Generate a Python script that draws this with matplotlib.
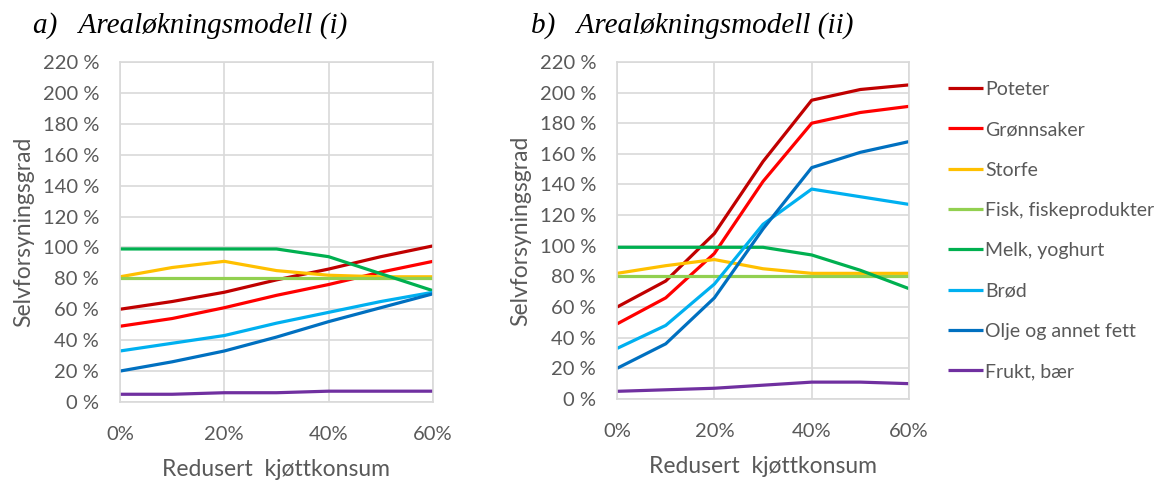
import matplotlib.pyplot as plt
from matplotlib.ticker import FuncFormatter

reduksjon = [0, 10, 20, 30, 40, 50, 60]
navn = ['Poteter', 'Grønnsaker', 'Storfe', 'Fisk, fiskeprodukter',
        'Melk, yoghurt', 'Brød', 'Olje og annet fett', 'Frukt, bær']
farger = ['#C00000', '#FF0000', '#FFC000', '#92D050',
          '#00B050', '#00B0F0', '#0070C0', '#7030A0']

# a) Arealøkningsmodell (i)
modell_i = {
    'Poteter': [60, 65, 71, 79, 86, 94, 101],
    'Grønnsaker': [49, 54, 61, 69, 76, 84, 91],
    'Storfe': [81, 87, 91, 85, 82, 81, 81],
    'Fisk, fiskeprodukter': [80, 80, 80, 80, 80, 80, 80],
    'Melk, yoghurt': [99, 99, 99, 99, 94, 83, 72],
    'Brød': [33, 38, 43, 51, 58, 65, 71],
    'Olje og annet fett': [20, 26, 33, 42, 52, 61, 70],
    'Frukt, bær': [5, 5, 6, 6, 7, 7, 7],
}

# b) Arealøkningsmodell (ii)
modell_ii = {
    'Poteter': [60, 77, 108, 155, 195, 202, 205],
    'Grønnsaker': [49, 66, 95, 142, 180, 187, 191],
    'Storfe': [82, 87, 91, 85, 82, 82, 82],
    'Fisk, fiskeprodukter': [80, 80, 80, 80, 80, 80, 80],
    'Melk, yoghurt': [99, 99, 99, 99, 94, 84, 72],
    'Brød': [33, 48, 75, 114, 137, 132, 127],
    'Olje og annet fett': [20, 36, 66, 111, 151, 161, 168],
    'Frukt, bær': [5, 6, 7, 9, 11, 11, 10],
}

grid = '#D9D9D9'
tekst = '#595959'
font = 'Lato'

fig = plt.figure(figsize=(11.74, 4.8), dpi=100)
ax1 = fig.add_axes([0.1022, 0.1625, 0.2666, 0.7085])
ax2 = fig.add_axes([0.5256, 0.1688, 0.2487, 0.7022])

for ax, data in [(ax1, modell_i), (ax2, modell_ii)]:
    for n, c in zip(navn, farger):
        ax.plot(reduksjon, data[n], color=c, lw=2.3, label=n,
                solid_capstyle='butt')
    ax.set_xlim(0, 60)
    ax.set_ylim(0, 220)
    ax.set_xticks([0, 20, 40, 60])
    ax.set_yticks(range(0, 221, 20))
    ax.xaxis.set_major_formatter(FuncFormatter(lambda v, p: f'{v:.0f}%'))
    ax.yaxis.set_major_formatter(FuncFormatter(lambda v, p: f'{v:.0f} %'))
    ax.grid(True, color=grid, lw=1.2)
    ax.set_axisbelow(True)
    for s in ax.spines.values():
        s.set_color(grid)
        s.set_linewidth(1.2)
    ax.tick_params(length=0, labelsize=14.5, labelcolor=tekst)
    ax.tick_params(axis='y', pad=15)
    ax.tick_params(axis='x', pad=17)
    for lab in ax.get_xticklabels() + ax.get_yticklabels():
        lab.set_family(font)
    ax.set_ylabel('Selvforsyningsgrad', fontsize=16.5, color=tekst,
                  family=font, labelpad=6)
    ax.set_xlabel('Redusert  kjøttkonsum', fontsize=16.5, color=tekst,
                  family=font, labelpad=12)

fig.text(0.028, 0.947, 'a)   Arealøkningsmodell (i)', fontsize=21,
         style='italic', family='Liberation Serif', va='center')
fig.text(0.452, 0.947, 'b)   Arealøkningsmodell (ii)', fontsize=21,
         style='italic', family='Liberation Serif', va='center')

leg = ax2.legend(loc='upper left', bbox_to_anchor=(0.793, 0.868),
                 bbox_transform=fig.transFigure, frameon=False,
                 handlelength=1.8, handletextpad=0.1, labelspacing=1.2,
                 prop={'family': font, 'size': 14})
for t in leg.get_texts():
    t.set_color(tekst)

plt.savefig('out.png', dpi=100)
